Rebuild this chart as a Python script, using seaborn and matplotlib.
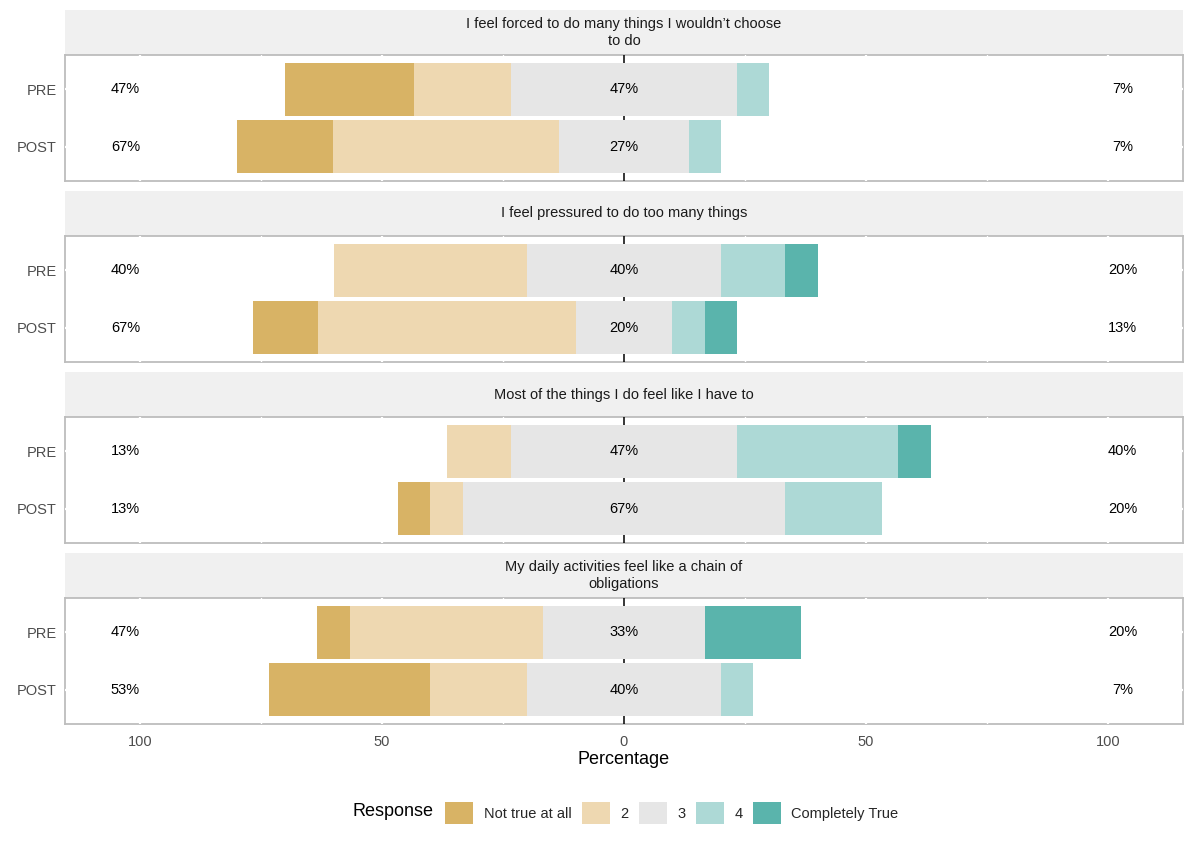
import matplotlib
matplotlib.use("Agg")
import matplotlib.pyplot as plt
from matplotlib.patches import Patch
import seaborn as sns

# likert items (one facet each)
items = ["I feel forced to do many things I wouldn\u2019t choose\nto do",
         "I feel pressured to do too many things",
         "Most of the things I do feel like I have to",
         "My daily activities feel like a chain of\nobligations"]
groups = ["PRE", "POST"]
levels = ["Not true at all", "2", "3", "4", "Completely True"]

# percent per response level, [item][group]
pct_1 = [[26.7, 20.0], [0.0, 13.3], [0.0, 6.7], [6.7, 33.3]]
pct_2 = [[20.0, 46.7], [40.0, 53.3], [13.3, 6.7], [40.0, 20.0]]
pct_3 = [[46.7, 26.7], [40.0, 20.0], [46.7, 66.7], [33.3, 40.0]]
pct_4 = [[6.7, 6.7], [13.3, 6.7], [33.3, 20.0], [0.0, 6.7]]
pct_5 = [[0.0, 0.0], [6.7, 6.7], [6.7, 0.0], [20.0, 0.0]]

colors = sns.color_palette(["#D8B365", "#EED8B1", "#E6E6E6", "#ADD9D6", "#5AB4AC"])

sns.set_theme(style="white")
plt.rcParams['font.family'] = ['Liberation Sans', 'DejaVu Sans']

W, H = 1200, 841
fig = plt.figure(figsize=(12, 8.41), dpi=100)

left = 65 / W
width = 1118 / W
panel_tops = [55, 236, 417, 598]
ph = 126
sh = 45

for i, item in enumerate(items):
    top = panel_tops[i]
    # strip
    sax = fig.add_axes([left, 1 - top / H, width, sh / H])
    sax.set_facecolor("#F0F0F0")
    for s in sax.spines.values():
        s.set_visible(False)
    sax.set_xticks([])
    sax.set_yticks([])
    sax.text(0.5, 0.5, item, ha="center", va="center", multialignment="center",
             fontsize=10.5, color="#1A1A1A", linespacing=1.2, transform=sax.transAxes)

    ax = fig.add_axes([left, 1 - (top + ph) / H, width, ph / H])
    ax.set_facecolor("white")
    for s in ax.spines.values():
        s.set_color("#BDBDBD")
        s.set_linewidth(1.3)
        s.set_zorder(2.5)

    for g in range(2):
        p1, p2, p3, p4, p5 = pct_1[i][g], pct_2[i][g], pct_3[i][g], pct_4[i][g], pct_5[i][g]
        lefts = [-p3 / 2 - p2 - p1, -p3 / 2 - p2, -p3 / 2, p3 / 2, p3 / 2 + p4]
        widths = [p1, p2, p3, p4, p5]
        for k in range(5):
            if widths[k] > 0:
                ax.barh(g, widths[k], left=lefts[k], height=0.92, color=colors[k],
                        linewidth=0, zorder=4)
        ax.text(-103, g, f"{round(p1 + p2)}%", ha="center", va="center", fontsize=10.5, color="black", zorder=5)
        ax.text(0, g, f"{round(p3)}%", ha="center", va="center", fontsize=10.5, color="black", zorder=5)
        ax.text(103, g, f"{round(p4 + p5)}%", ha="center", va="center", fontsize=10.5, color="black", zorder=5)

    # white grid over the panel outline, under the bars
    for xv in [-100, -50, 50, 100]:
        ax.axvline(xv, color="white", lw=1.6, zorder=3)
    for xv in [-75, -25, 25, 75]:
        ax.axvline(xv, color="white", lw=1.0, zorder=3)
    for yv in range(2):
        ax.axhline(yv, color="white", lw=1.6, zorder=3)
    ax.axvline(0, color="black", lw=1.1, zorder=3.5)

    ax.set_xlim(-115.5, 115.5)
    ax.set_ylim(1.6, -0.6)
    ax.set_yticks(range(2))
    ax.set_yticklabels(groups)
    ax.set_xticks([-100, -50, 0, 50, 100])
    ax.tick_params(axis="both", length=0, labelsize=10.5, labelcolor="#4D4D4D")
    ax.tick_params(axis="y", pad=6)
    ax.tick_params(axis="x", pad=8)
    if i < len(items) - 1:
        ax.set_xticklabels([])
    else:
        ax.set_xticklabels(["100", "50", "0", "50", "100"])
    ax.grid(False)

fig.text(624 / W, 1 - 760 / H, "Percentage", ha="center", va="center", fontsize=13, color="black")
fig.text(353 / W, 1 - 812 / H, "Response", ha="left", va="center", fontsize=13, color="black")

handles = [Patch(facecolor=colors[k], edgecolor="none") for k in range(5)]
fig.legend(handles, levels, loc="center left", bbox_to_anchor=(445 / W, 1 - 813 / H), ncol=5,
           frameon=False, handlelength=1.95, handleheight=2.0, handletextpad=0.7,
           columnspacing=0.7, borderaxespad=0, borderpad=0, fontsize=10.5)

fig.savefig("out.png", dpi=100)
